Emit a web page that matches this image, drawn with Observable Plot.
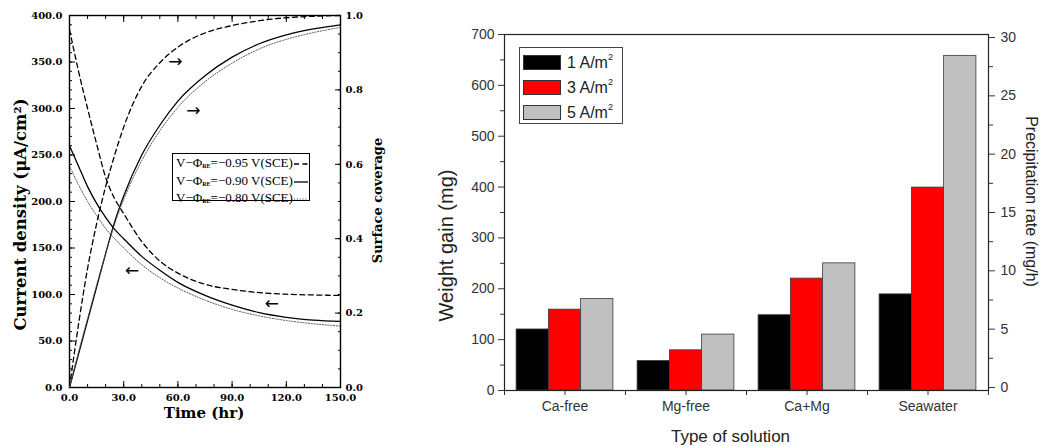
<!DOCTYPE html>
<html><head><meta charset="utf-8">
<script src="https://cdn.jsdelivr.net/npm/d3@7"></script>
<script src="https://cdn.jsdelivr.net/npm/@observablehq/plot@0.6"></script>
<style>
body{margin:0;background:#fff;}
#wrap{position:relative;width:1046px;height:446px;overflow:hidden;background:#fff;}
#wrap svg{position:absolute;top:0;}
.legL{position:absolute;left:172px;top:153px;width:133px;height:44px;border:1.3px solid #000;font-family:"Liberation Serif",serif;font-size:13px;line-height:14.5px;padding:2px 0 0 3px;color:#000;white-space:nowrap;}
.legL sub{font-size:6px;font-weight:bold;vertical-align:-1px;}
.legL svg{position:static !important;vertical-align:middle;}
.legR{position:absolute;left:519px;top:47px;width:102px;height:75px;border:1px solid #444;font-family:"Liberation Sans",Arial,sans-serif;font-size:16px;color:#222;}
.legR .row{position:absolute;left:3px;height:16px;display:flex;align-items:center;}
.legR .sw{width:38px;height:15px;border:1px solid #333;margin-right:6px;box-sizing:border-box;}
.legR sup{font-size:9px;vertical-align:8px;}
</style></head><body><div id="wrap"></div>
<script>
// ---- Left chart data ----
const times = [0,5,10,15,20,25,30,40,50,60,75,90,105,120,135,150];
const potentials = ["-0.95","-0.90","-0.80"];
const current095 = [385,340,300,262,226,203,187,157,136,123,111,105.5,102,100.3,99.5,99];
const current090 = [260,238,216,198,183,170,160,141,126,113,99,88.5,80.5,75.5,72.5,71];
const current080 = [238,218,200,185,171,160,150,132,118,107,94,84,77,72,68.5,66];
const coverage095 = [0,0.17,0.32,0.44,0.54,0.625,0.70,0.81,0.873,0.915,0.953,0.973,0.986,0.994,0.998,1.0];
const coverage090 = [0,0.09,0.18,0.27,0.36,0.445,0.515,0.625,0.705,0.77,0.838,0.888,0.924,0.948,0.964,0.975];
const coverage080 = [0,0.095,0.185,0.275,0.36,0.44,0.505,0.61,0.69,0.753,0.822,0.872,0.91,0.936,0.954,0.968];
const arrowsCurrent = [{t:34.7, v:126, s:"←"}, {t:112, v:90, s:"←"}];
const arrowsCoverage = [{t:58.6, v:0.875, s:"→"}, {t:68.5, v:0.745, s:"→"}];
const leftXTicks = [0,30,60,90,120,150];
const leftYTicks = [0,50,100,150,200,250,300,350,400];
const covTicks = [0,0.2,0.4,0.6,0.8,1.0];

// ---- Right chart data ----
const solutions = ["Ca-free","Mg-free","Ca+Mg","Seawater"];
const densities = ["1","3","5"];
const gain1 = [120,58,148,189];
const gain3 = [159,79,220,399];
const gain5 = [180,110,250,658];
const gainTicks = [0,100,200,300,400,500,600,700];
const rateTicks = [0,5,10,15,20,25,30];

const wrap = document.getElementById("wrap");

const lineStyle = {
  "-0.95": {stroke:"#000", strokeWidth:1.3, strokeDasharray:"5,3.5"},
  "-0.90": {stroke:"#000", strokeWidth:1.3, strokeDasharray:null},
  "-0.80": {stroke:"#555", strokeWidth:1, strokeDasharray:"1.2,1.6"}
};
const currents = [current095, current090, current080];
const coverages = [coverage095, coverage090, coverage080];
const curRows = potentials.map((p,k)=>times.map((t,i)=>({t, v:currents[k][i], p})));
const covRows = potentials.map((p,k)=>times.map((t,i)=>({t, v:coverages[k][i], p})));

const LW = 410, LH = 446;
const lm = {marginLeft:69, marginRight:70, marginTop:15, marginBottom:59};
const serif = "DejaVu Serif, serif";

const left = Plot.plot({
  width: LW, height: LH, ...lm,
  style: {fontFamily: serif, fontWeight: "bold", fontSize: "10px", color: "#000", background: "white"},
  x: {domain: [0,150]},
  y: {domain: [0,400]},
  marks: [
    Plot.axisY({ticks: leftYTicks, tickSize: -6, fill: "none", label: null}),
    Plot.axisY({ticks: d3.range(0,401,10), tickSize: -3, fill: "none", label: null}),
    Plot.axisY({ticks: leftYTicks, tickSize: 0, tickPadding: 7, tickFormat: d=>d.toFixed(1), label: null}),
    Plot.axisX({ticks: leftXTicks, tickSize: -6, fill: "none", label: null}),
    Plot.axisX({ticks: d3.range(0,151,10), tickSize: -3, fill: "none", label: null}),
    Plot.axisX({ticks: leftXTicks, tickSize: 0, tickPadding: 6, tickFormat: d=>d.toFixed(1), label: null}),
    Plot.axisX({anchor: "top", ticks: leftXTicks, tickSize: -6, fill: "none", label: null}),
    Plot.axisX({anchor: "top", ticks: d3.range(0,151,10), tickSize: -3, fill: "none", label: null}),
    ...curRows.map((rows,k)=>Plot.line(rows, {x:"t", y:"v", curve:"monotone-x", ...lineStyle[potentials[k]]})),
    Plot.text(arrowsCurrent, {x:"t", y:"v", text:"s", fontSize: 17, fontWeight: "normal", fontFamily: "DejaVu Sans"}),
    Plot.frame({stroke:"#000", strokeWidth: 1.4}),
    Plot.text(["Current density (μA/cm²)"], {frameAnchor:"left", textAnchor:"middle", lineAnchor:"middle", rotate:-90, dx:-49, dy:13, fontSize:16.5, fontWeight:"bold"}),
    Plot.text(["Time (hr)"], {frameAnchor:"bottom", textAnchor:"middle", lineAnchor:"middle", dx:-1, dy:26, fontSize:15, fontWeight:"bold"})
  ]
});
left.style.left = "0px";
wrap.appendChild(left);

const leftCov = Plot.plot({
  width: LW, height: LH, ...lm,
  style: {fontFamily: serif, fontWeight: "bold", fontSize: "10px", color: "#000", background: "transparent"},
  x: {domain: [0,150], axis: null},
  y: {domain: [0,1], axis: null},
  marks: [
    Plot.axisY({anchor:"right", ticks: covTicks, tickSize: -6, fill:"none", label:null}),
    Plot.axisY({anchor:"right", ticks: d3.range(0,1.001,0.05), tickSize: -3, fill:"none", label:null}),
    Plot.axisY({anchor:"right", ticks: covTicks, tickSize: 0, tickPadding: 5, tickFormat: d=>d.toFixed(1), label:null}),
    ...covRows.map((rows,k)=>Plot.line(rows, {x:"t", y:"v", curve:"monotone-x", ...lineStyle[potentials[k]]})),
    Plot.text(arrowsCoverage, {x:"t", y:"v", text:"s", fontSize: 17, fontWeight: "normal", fontFamily: "DejaVu Sans"}),
    Plot.text(["Surface coverage"], {frameAnchor:"right", textAnchor:"middle", lineAnchor:"middle", rotate:-90, dx:37, dy:-1, fontSize:13, fontWeight:"bold"})
  ]
});
leftCov.style.left = "0px";
wrap.appendChild(leftCov);

const legL = document.createElement("div");
legL.className = "legL";
legL.innerHTML = potentials.map(p=>{
  const st = lineStyle[p];
  return `<div>V−Φ<sub>RE</sub>=${p.replace("-","−")} V(SCE)<svg width="16" height="8"><line x1="1" x2="15" y1="4" y2="4" stroke="${st.stroke}" stroke-width="${st.strokeWidth}" ${st.strokeDasharray?`stroke-dasharray="${st.strokeDasharray}"`:""}/></svg></div>`;
}).join("");
wrap.appendChild(legL);

// ---- Right chart ----
const RW = 626, RH = 446;
const rm = {marginLeft:84, marginRight:58, marginTop:34, marginBottom:56};
const step = (RW - rm.marginLeft - rm.marginRight) / solutions.length;
const bw = step * 0.8 / densities.length;
const colors = ["#000000","#ff0000","#c0c0c0"];
const gains = [gain1, gain3, gain5];
const sans = "Liberation Sans, Arial, sans-serif";

const right = Plot.plot({
  width: RW, height: RH, ...rm,
  style: {fontFamily: sans, fontSize: "14px", color: "#333", background: "white"},
  x: {type:"band", domain: solutions, padding: 0},
  y: {domain: [0,700]},
  marks: [
    ...densities.map((d,j)=>{
      const il = step*0.1 + j*bw;
      return Plot.barY(solutions.map((s,i)=>({s, v:gains[j][i]})), {
        x:"s", y:"v", fill: colors[j], stroke:"#3a3a3a", strokeWidth:0.8,
        insetLeft: il, insetRight: step - il - bw
      });
    }),
    Plot.frame({stroke:"#222", strokeWidth:1.2}),
    Plot.axisY({ticks: gainTicks, tickSize: 6, tickPadding: 4, label: null}),
    Plot.axisY({ticks: d3.range(50,701,100), tickSize: 4, fill:"none", label: null}),
    Plot.axisX({ticks: solutions, tickSize: 0, tickPadding: 11, label: null}),
    Plot.axisX({ticks: solutions, tickSize: 5, fill:"none", label: null}),
    Plot.axisX({ticks: solutions, tickSize: 5, fill:"none", label: null, dx: -step/2}),
    Plot.axisX({ticks: solutions.slice(-1), tickSize: 5, fill:"none", label: null, dx: step/2}),
    Plot.text(["Weight gain (mg)"], {frameAnchor:"left", textAnchor:"middle", lineAnchor:"middle", rotate:-90, dx:-58, dy:33, fontSize:20, letterSpacing: "3px", fill:"#222"}),
    Plot.text(["Type of solution"], {frameAnchor:"bottom", textAnchor:"middle", lineAnchor:"middle", dx:-16, dy:46, fontSize:17, fill:"#222"})
  ]
});
right.style.left = "420px";
wrap.appendChild(right);

const rightRate = Plot.plot({
  width: RW, height: RH, ...rm,
  style: {fontFamily: sans, fontSize: "14px", color: "#333", background: "transparent"},
  y: {domain: [-0.26, 30.26], axis: null},
  marks: [
    Plot.axisY({anchor:"right", ticks: rateTicks, tickSize: 6, tickPadding: 6, label: null}),
    Plot.axisY({anchor:"right", ticks: d3.range(2.5,30,5), tickSize: 4, fill:"none", label: null}),
    Plot.text(["Precipitation rate (mg/h)"], {frameAnchor:"right", textAnchor:"middle", lineAnchor:"middle", rotate:90, dx:43, dy:-11, fontSize:16, fill:"#222"})
  ]
});
rightRate.style.left = "420px";
wrap.appendChild(rightRate);

const legR = document.createElement("div");
legR.className = "legR";
legR.innerHTML = densities.map((d,j)=>
  `<div class="row" style="top:${6 + j*25}px"><div class="sw" style="background:${colors[j]}"></div><span>${d} A/m<sup>2</sup></span></div>`
).join("");
wrap.appendChild(legR);
</script>
</body></html>
